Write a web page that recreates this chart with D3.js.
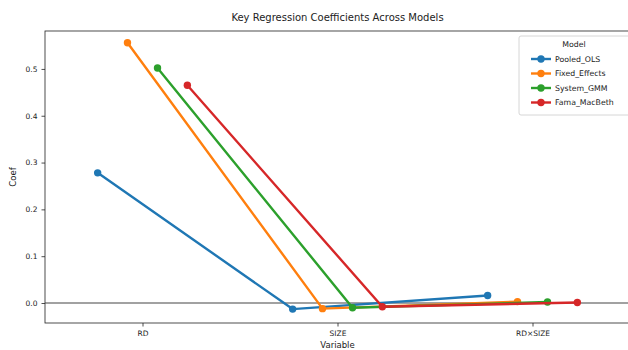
<!DOCTYPE html>
<html><head><meta charset="utf-8">
<script src="https://cdn.jsdelivr.net/npm/d3@7"></script>
<style>body{margin:0;background:#fff}svg{display:block}text{font-family:"DejaVu Sans",sans-serif}</style>
</head><body><svg id="c" width="628" height="350"></svg>
<script>
const categories = ["RD", "SIZE", "RD×SIZE"];
const models = ["Pooled_OLS", "Fixed_Effects", "System_GMM", "Fama_MacBeth"];
const colors = ["#1f77b4", "#ff7f0e", "#2ca02c", "#d62728"];
const pooledOLS = [0.278, -0.013, 0.016];
const fixedEffects = [0.556, -0.012, 0.003];
const systemGMM = [0.502, -0.010, 0.002];
const famaMacBeth = [0.465, -0.008, 0.001];
const yTicks = [0.0, 0.1, 0.2, 0.3, 0.4, 0.5];
const series = [pooledOLS, fixedEffects, systemGMM, famaMacBeth];
const dodgeOffsets = [-0.23, -0.077, 0.077, 0.23];

const svg = d3.select("#c");
const L = 45, R = 630, T = 31, B = 323;
const x = d3.scaleLinear().domain([-0.5, 2.5]).range([L, R]);
const y = d3.scaleLinear().domain([-0.0427, 0.581]).range([B, T]);

// axes frame
svg.append("rect").attr("x", L).attr("y", T).attr("width", R - L).attr("height", B - T)
  .attr("fill", "none").attr("stroke", "#222").attr("stroke-width", 0.8);

const xAxis = svg.append("g").attr("transform", `translate(0,${B})`)
  .call(d3.axisBottom(x).tickValues([0, 1, 2]).tickFormat(i => categories[i]).tickSize(3.5).tickPadding(4));
const yAxis = svg.append("g").attr("transform", `translate(${L},0)`)
  .call(d3.axisLeft(y).tickValues(yTicks).tickFormat(d3.format(".1f")).tickSize(3.5).tickPadding(4));
[xAxis, yAxis].forEach(g => {
  g.select(".domain").remove();
  g.selectAll("line").attr("stroke", "#222").attr("stroke-width", 0.8);
  g.selectAll("text").attr("fill", "#222").style("font-size", "7.5px");
});

// zero line
svg.append("line").attr("x1", L).attr("x2", R).attr("y1", y(0)).attr("y2", y(0))
  .attr("stroke", "#444").attr("stroke-width", 1.2);

// series
series.forEach((vals, si) => {
  const pts = vals.map((v, i) => [x(i + dodgeOffsets[si]), y(v)]);
  svg.append("path").attr("d", d3.line()(pts)).attr("fill", "none")
    .attr("stroke", colors[si]).attr("stroke-width", 2.4);
  svg.selectAll(null).data(pts).enter().append("circle")
    .attr("cx", d => d[0]).attr("cy", d => d[1]).attr("r", 3.7).attr("fill", colors[si]);
});

// title and labels
svg.append("text").attr("x", (L + R) / 2).attr("y", 21).attr("text-anchor", "middle")
  .style("font-size", "10px").attr("fill", "#222").text("Key Regression Coefficients Across Models");
svg.append("text").attr("transform", `translate(16,${(T + B) / 2}) rotate(-90)`).attr("text-anchor", "middle")
  .style("font-size", "8.5px").attr("fill", "#222").text("Coef");
svg.append("text").attr("x", (L + R) / 2).attr("y", 347.5).attr("text-anchor", "middle")
  .style("font-size", "8.5px").attr("fill", "#222").text("Variable");

// legend
const lg = svg.append("g");
lg.append("rect").attr("x", 519).attr("y", 36).attr("width", 120).attr("height", 79).attr("rx", 2)
  .attr("fill", "#fff").attr("fill-opacity", 0.8).attr("stroke", "#ccc").attr("stroke-width", 0.8);
lg.append("text").attr("x", 574).attr("y", 47).attr("text-anchor", "middle")
  .style("font-size", "7.8px").attr("fill", "#222").text("Model");
models.forEach((m, i) => {
  const yy = 59 + i * 14.5;
  lg.append("line").attr("x1", 531).attr("x2", 551).attr("y1", yy).attr("y2", yy)
    .attr("stroke", colors[i]).attr("stroke-width", 2.4);
  lg.append("circle").attr("cx", 541).attr("cy", yy).attr("r", 3.7).attr("fill", colors[i]);
  lg.append("text").attr("x", 555).attr("y", yy + 2.8).style("font-size", "7.8px").attr("fill", "#222").text(m);
});
</script></body></html>
